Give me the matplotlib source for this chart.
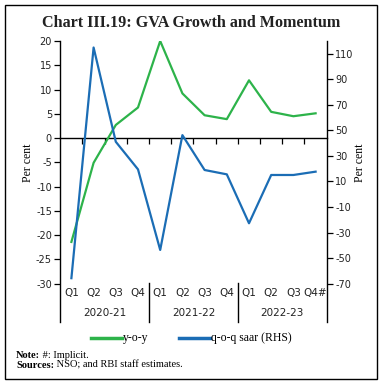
import matplotlib
matplotlib.use('Agg')
from matplotlib import pyplot as plt
from matplotlib.lines import Line2D
from matplotlib.patches import Rectangle
import matplotlib.transforms as mtrans

quarters = ['Q1', 'Q2', 'Q3', 'Q4', 'Q1', 'Q2', 'Q3', 'Q4', 'Q1', 'Q2', 'Q3', 'Q4#']
years = ['2020-21', '2021-22', '2022-23']
yoy = [-21.4, -5.1, 2.7, 6.3, 20.0, 9.2, 4.7, 3.9, 11.9, 5.4, 4.5, 5.1]
qoq_saar = [-65.7, 114.9, 41.1, 19.5, -43.6, 46.3, 19.0, 15.6, -22.7, 15.1, 15.1, 17.7]

green = '#2DB34A'
blue = '#1B6DB5'
serif = 'Liberation Serif'
sans = 'DejaVu Sans'
plt.rcParams['axes.unicode_minus'] = False

W, H = 383, 386
fig = plt.figure(figsize=(W / 100, H / 100), dpi=100)

# axes box in pixel terms
left, right, top, bottom = 60.3, 326.7, 41, 322
ax = fig.add_axes([left / W, 1 - bottom / H, (right - left) / W, (bottom - top) / H])
ax2 = ax.twinx()

x = list(range(len(quarters)))
ax.plot(x, yoy, color=green, lw=1.6, zorder=3)
ax2.plot(x, qoq_saar, color=blue, lw=1.6, zorder=3)

ax.set_xlim(-0.5, len(quarters) - 0.5)
ax.set_ylim(-37.9, 20)
ax2.set_ylim(-100, 120)
ax.set_yticks(range(-30, 21, 5))
ax2.set_yticks(range(-70, 111, 20))

for s in ['top', 'right']:
    ax.spines[s].set_visible(False)
for s in ['top', 'left', 'bottom']:
    ax2.spines[s].set_visible(False)
ax.spines['bottom'].set_position(('data', 0))
ax.spines['bottom'].set_linewidth(1.0)
ax.spines['left'].set_linewidth(1.0)
ax2.spines['right'].set_linewidth(1.0)

ax.set_xticks([i + 0.5 for i in range(len(quarters) - 1)])
ax.set_xticklabels([])
ax.tick_params(axis='x', direction='out', length=4, width=0.9)
ax.tick_params(axis='y', length=4, width=0.9, labelsize=7, pad=2)
ax2.tick_params(axis='y', length=4, width=0.9, labelsize=7, pad=2)
for lab in ax.get_yticklabels() + ax2.get_yticklabels():
    lab.set_fontfamily(sans)
    lab.set_color('#222222')

# category labels below the plot
trans = mtrans.blended_transform_factory(ax.transData, ax.transAxes)
h_ax = bottom - top
for i, q in enumerate(quarters):
    ax.text(i, (bottom - 293) / h_ax, q, transform=trans, ha='center', va='center',
            fontsize=7.5, family=sans, color='#222222')
for j, yr in enumerate(years):
    ax.text(j * 4 + 1.5, (bottom - 313) / h_ax, yr, transform=trans, ha='center', va='center',
            fontsize=7.5, family=sans, color='#222222')
for b in [3.5, 7.5]:
    ax.plot([b, b], [0, (bottom - 283) / h_ax], transform=trans, color='black', lw=1.0,
            clip_on=False)

fig.text(28 / W, 1 - 163 / H, 'Per cent', rotation=90, ha='center', va='center',
         fontsize=8.5, family=serif)
fig.text(360 / W, 1 - 163 / H, 'Per cent', rotation=90, ha='center', va='center',
         fontsize=8.5, family=serif)

fig.text(0.5, 1 - 23 / H, 'Chart III.19: GVA Growth and Momentum', ha='center', va='center',
         fontsize=11.6, fontweight='bold', family=serif, color='#222222')

# legend drawn by hand
ly = 1 - 338 / H
fig.add_artist(Line2D([91 / W, 122 / W], [ly, ly], color=green, lw=2.5))
fig.text(123 / W, ly, 'y-o-y', ha='left', va='center', fontsize=8.5, family=serif)
fig.add_artist(Line2D([179 / W, 210 / W], [ly, ly], color=blue, lw=2.5))
fig.text(211 / W, ly, 'q-o-q saar (RHS)', ha='left', va='center', fontsize=8.5, family=serif)

# notes
fig.canvas.draw()
r = fig.canvas.get_renderer()
for yy, bold, rest in [(355, 'Note:', ' #: Implicit.'),
                       (365, 'Sources:', ' NSO; and RBI staff estimates.')]:
    t = fig.text(16 / W, 1 - yy / H, bold, ha='left', va='center', fontsize=7.5,
                 family=serif, fontweight='bold')
    bb = t.get_window_extent(renderer=r)
    fig.text(bb.x1 / W, 1 - yy / H, rest, ha='left', va='center', fontsize=7.5, family=serif)

fig.add_artist(Rectangle((5 / W, 1 - 379 / H), 372 / W, 374 / H, transform=fig.transFigure,
                         fill=False, edgecolor='black', lw=1.0))

fig.savefig('out.png', dpi=100)
